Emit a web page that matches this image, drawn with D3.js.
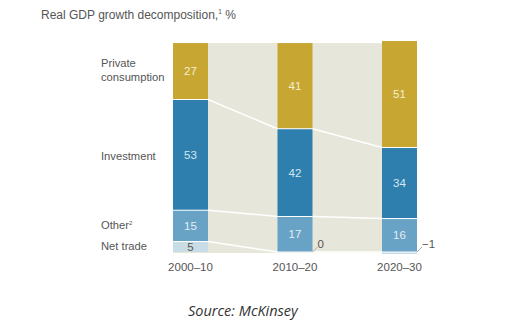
<!DOCTYPE html>
<html><head><meta charset="utf-8">
<script src="https://cdn.jsdelivr.net/npm/d3@7"></script>
<style>body{margin:0;background:#fff;} svg{display:block;}</style>
</head><body>
<svg id="c" width="512" height="325"></svg>
<script>
const categories = ["2000–10", "2010–20", "2020–30"];
const seriesNames = ["Net trade", "Other", "Investment", "Private consumption"];
const netTrade = [5, 0, -1];
const other = [15, 17, 16];
const investment = [53, 42, 34];
const consumption = [27, 41, 51];
const colors = ["#c9dde6", "#68a2c5", "#2e7fad", "#c7a632"];
const valueColors = ["#555555", "#e2eef5", "#d5e6f1", "#f6eed2"];

const rows = categories.map((c, i) => ({cat: c, "Net trade": netTrade[i], "Other": other[i], "Investment": investment[i], "Private consumption": consumption[i]}));
const stacked = d3.stack().keys(seriesNames).offset(d3.stackOffsetDiverging)(rows);

const svg = d3.select("#c");
const x = d3.scaleBand().domain(categories).range([173, 417]).paddingInner(0.665).paddingOuter(0);
const y = d3.scaleLinear().domain([0, 101]).range([252, 41]);
const font = "'Liberation Sans', Arial, sans-serif";

svg.append("text").attr("x", 41).attr("y", 18.5).attr("font-family", font).attr("font-size", 12).attr("fill", "#555")
  .text("Real GDP growth decomposition,").append("tspan").attr("font-size", 6.5).attr("dy", -4.5).text("1")
  .clone().attr("font-size", 12).attr("dy", 4.5).text(" %");

// background
svg.append("rect").attr("x", x(categories[0])).attr("y", y(100)).attr("width", x(categories[2]) + x.bandwidth() - x(categories[0]))
  .attr("height", y(0) - y(100) + 1).attr("fill", "#e7e6da");

// bars
const g = svg.append("g");
stacked.forEach((s, si) => {
  g.selectAll(null).data(s).join("rect")
    .attr("x", d => x(d.data.cat)).attr("width", x.bandwidth())
    .attr("y", d => y(Math.max(d[0], d[1]))).attr("height", d => Math.abs(y(d[0]) - y(d[1])))
    .attr("fill", colors[si]);
});

// connector lines (segment bottoms of Other, Investment, Consumption)
[1, 2, 3].forEach(si => {
  const s = stacked[si];
  for (let i = 0; i < s.length - 1; i++) {
    svg.append("line")
      .attr("x1", x(categories[i]) + x.bandwidth()).attr("y1", y(s[i][0]))
      .attr("x2", x(categories[i + 1])).attr("y2", y(s[i + 1][0]))
      .attr("stroke", "#fff").attr("stroke-width", 1.5);
  }
  s.forEach((d, i) => {
    svg.append("line").attr("x1", x(categories[i])).attr("x2", x(categories[i]) + x.bandwidth())
      .attr("y1", y(d[0])).attr("y2", y(d[0])).attr("stroke", "#fff").attr("stroke-width", 1);
  });
});

// value labels
stacked.forEach((s, si) => {
  s.forEach((d, i) => {
    const v = d.data[seriesNames[si]];
    if (Math.abs(v) >= 3) {
      svg.append("text").attr("x", x(d.data.cat) + x.bandwidth() / 2).attr("y", (y(d[0]) + y(d[1])) / 2 + 4)
        .attr("text-anchor", "middle").attr("font-family", font).attr("font-size", 11.5).attr("fill", valueColors[si]).text(v);
    } else {
      const bx = x(d.data.cat) + x.bandwidth();
      const by = y(0);
      svg.append("line").attr("x1", bx).attr("y1", by).attr("x2", bx + 5).attr("y2", by - 5)
        .attr("stroke", "#999").attr("stroke-width", 0.8);
      svg.append("text").attr("x", bx + 5).attr("y", by - 4).attr("font-family", font).attr("font-size", 11.5).attr("fill", "#555")
        .text(v < 0 ? "−" + Math.abs(v) : v);
    }
  });
});

// left labels
const lab = svg.append("g").attr("font-family", font).attr("font-size", 11.2).attr("fill", "#555");
lab.append("text").attr("x", 101).attr("y", 67).text("Private");
lab.append("text").attr("x", 101).attr("y", 81).text("consumption");
lab.append("text").attr("x", 101).attr("y", 160).text("Investment");
const ot = lab.append("text").attr("x", 101).attr("y", 229).text("Other");
ot.append("tspan").attr("font-size", 6).attr("dy", -4).text("2");
lab.append("text").attr("x", 101).attr("y", 250).text("Net trade");

// x axis labels
svg.append("g").attr("transform", `translate(0,${y(0)})`)
  .call(d3.axisBottom(x).tickSize(0).tickPadding(11))
  .call(a => a.select(".domain").remove())
  .call(a => a.selectAll("text").attr("font-family", font).attr("font-size", 11.5).attr("fill", "#555"));

svg.append("text").attr("x", 188).attr("y", 316).attr("font-family", "'Open Sans', sans-serif").attr("font-style", "italic")
  .attr("font-size", 14.5).attr("fill", "#333").text("Source: McKinsey");
</script>
</body></html>
